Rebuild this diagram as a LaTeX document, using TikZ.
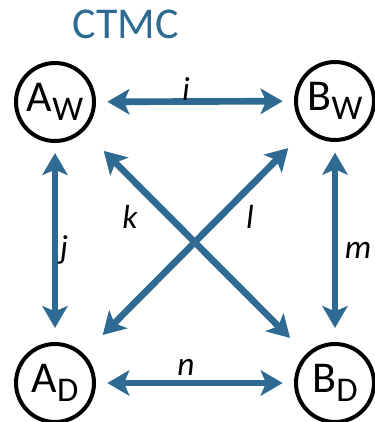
\documentclass[tikz,border=0pt]{standalone}
\usepackage{fontspec}
\setmainfont{Carlito}
\usetikzlibrary{arrows.meta}
\definecolor{ctmcblue}{RGB}{46,106,145}
\newcommand{\statelbl}[2]{#1\raisebox{-6.5pt}{\fontsize{26}{26}\selectfont #2}}
\tikzset{
  st/.style={draw, circle, line width=3pt, minimum size=58.5pt, inner sep=0pt, font=\fontsize{33}{33}\selectfont},
  arr/.style={{Stealth[length=16.5pt, width=19pt, inset=4pt]}-{Stealth[length=16.5pt, width=19pt, inset=4pt]}, line width=5pt, draw=ctmcblue},
  lbl/.style={font=\fontsize{25}{25}\selectfont\itshape, inner sep=0pt},
  ttl/.style={font=\fontsize{33}{33}\selectfont, text=ctmcblue, inner sep=0pt},
}
\begin{document}
\begin{tikzpicture}[x=0.75pt,y=-0.75pt]
\useasboundingbox (0,0) rectangle (375,422);
\node[ttl] (title) at (126,24) {CTMC};
\node[st] (aw) at (55,102) {\statelbl{A}{W}};
\node[st] (bw) at (335,101) {\statelbl{B}{W}};
\node[st] (ad) at (55,383) {\statelbl{A}{D}};
\node[st] (bd) at (335,383) {\statelbl{B}{D}};
\draw[arr, shorten <=8.5pt, shorten >=8.5pt] (aw) -- (bw);
\draw[arr, shorten <=8.5pt, shorten >=8.5pt] (ad) -- (bd);
\draw[arr, shorten <=7.5pt, shorten >=10.5pt] (aw) -- (ad);
\draw[arr, shorten <=8pt, shorten >=10.5pt] (bw) -- (bd);
\draw[arr, shorten <=21pt, shorten >=17pt] (aw) -- (bd);
\draw[arr, shorten <=20pt, shorten >=19pt] (ad) -- (bw);
\node[lbl] (li) at (186,89) {i};
\node[lbl] (ln) at (186,367) {n};
\node[lbl] (lj) at (64,250) {j};
\node[lbl] (lm) at (358,250) {m};
\node[lbl] (lk) at (130,217) {k};
\node[lbl] (ll) at (250,217) {l};
\end{tikzpicture}
\end{document}
